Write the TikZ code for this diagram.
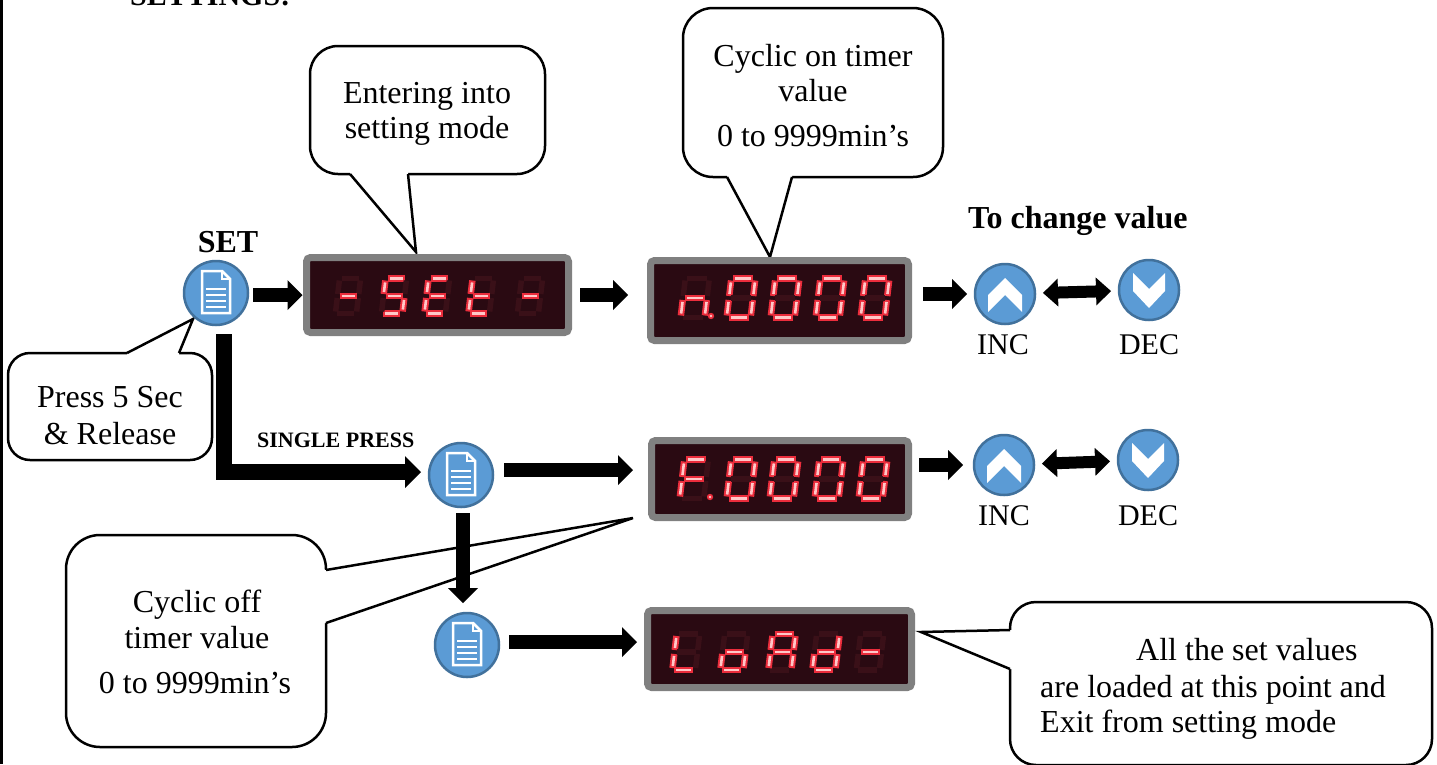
\documentclass[tikz,border=0pt]{standalone}
\usepackage{fontspec}
\setmainfont{Liberation Serif}
\usetikzlibrary{arrows.meta}
\definecolor{btnblue}{RGB}{91,155,213}
\definecolor{btnedge}{RGB}{65,113,156}
\definecolor{framegray}{RGB}{128,128,128}
\definecolor{dispbg}{RGB}{42,10,18}
\definecolor{ledred}{RGB}{235,45,60}
\definecolor{ledpink}{RGB}{255,200,200}
\definecolor{leddim}{RGB}{58,16,24}
\newcommand\ledw{11}
\newcommand\ledh{19}
\newcommand\ledpair[3]{\ifnum#1=1 \draw[ledglow] #2 -- #3;\draw[ledcore] #2 -- #3;\else\draw[ledoff] #2 -- #3;\fi}
\newcommand\ledchar[9]{%
 \begin{scope}[shift={(#1,#2)},xslant=0.12]
  \ledpair{#3}{(-\ledw,-\ledh)}{(\ledw,-\ledh)}%
  \ledpair{#4}{(\ledw,-\ledh)}{(\ledw,0)}%
  \ledpair{#5}{(\ledw,0)}{(\ledw,\ledh)}%
  \ledpair{#6}{(-\ledw,\ledh)}{(\ledw,\ledh)}%
  \ledpair{#7}{(-\ledw,0)}{(-\ledw,\ledh)}%
  \ledpair{#8}{(-\ledw,-\ledh)}{(-\ledw,0)}%
  \ledpair{#9}{(-\ledw,0)}{(\ledw,0)}%
 \end{scope}}
\newcommand\leddot[2]{\fill[ledred] (#1,#2) circle (3.2);\fill[ledpink] (#1,#2) circle (1.4);}
\begin{document}
\begin{tikzpicture}[x=1pt,y=-1pt,
  cbox/.style={draw=black, line width=2.5pt, fill=white},
  cline/.style={draw=black, line width=2.5pt, line join=miter},
  disp/.style={draw=framegray, line width=7pt, fill=dispbg, rounded corners=4pt, inner sep=0pt, outer sep=0pt},
  btn/.style={circle, fill=btnblue, draw=btnedge, line width=2.5pt, minimum size=64pt, inner sep=0pt, outer sep=0pt},
  keybtn/.style={btn, minimum size=60pt},
  bigarrow/.style={line width=14pt, -{Triangle[width=30pt,length=15pt,line width=0pt]}},
  larrow/.style={line width=16pt, line join=miter, -{Triangle[width=32pt,length=16pt,line width=0pt]}},
  dblarrow/.style={line width=12pt, {Triangle[width=28pt,length=15pt,line width=0pt]}-{Triangle[width=28pt,length=15pt,line width=0pt]}},
  txt/.style={inner sep=0pt, font=\fontsize{32}{38}\selectfont},
  ledglow/.style={draw=ledred, line width=6.5pt, shorten <=2pt, shorten >=2pt},
  ledcore/.style={draw=ledpink, line width=2.6pt, shorten <=4pt, shorten >=4pt},
  ledoff/.style={draw=leddim, line width=5.5pt, shorten <=2pt, shorten >=2pt},
  docicon/.pic={
    \draw[white, line width=2.5pt, line join=miter] (-14,-22) -- (6,-22) -- (14,-14) -- (14,20) -- (-14,20) -- cycle;
    \draw[white, line width=2pt] (6,-22) -- (6,-14) -- (14,-14);
    \foreach \yy in {-4,2,8,14} \draw[white, line width=2pt] (-10,\yy) -- (10,\yy);
  },
  chevup/.pic={\fill[white] (0,-16) -- (17,1) -- (17,18) -- (0,1) -- (-17,18) -- (-17,1) -- cycle;},
  chevdown/.pic={\fill[white] (-16,-17) -- (0,-1) -- (16,-17) -- (16,1) -- (0,18) -- (-16,1) -- cycle;}
]
\useasboundingbox (0,0) rectangle (1437,764);
\clip (0,0) rectangle (1437,764);
\fill[white] (0,0) rectangle (1437,764);
\fill[black] (0,0) rectangle (3,764);

% heading (cut off at the top edge, as in the reference)
\node[txt, font=\fontsize{30}{36}\selectfont\bfseries, anchor=base west] (heading) at (130,5) {SETTINGS:};

% callout 1
\draw[cbox, rounded corners=28pt] (310,46) rectangle (545,174);
\fill[white] (350,171) -- (350,174) -- (416,252) -- (408,174) -- (408,171) -- cycle;
\draw[cline] (350,174) -- (416,252) -- (408,174);
\node[txt, anchor=base] (c1a) at (427,103) {Entering into};
\node[txt, anchor=base] (c1b) at (427,138) {setting mode};

% callout 2
\draw[cbox, rounded corners=30pt] (683,8) rectangle (943,177);
\fill[white] (727,174) -- (727,177) -- (770,257) -- (792,177) -- (792,174) -- cycle;
\draw[cline] (727,177) -- (770,257) -- (792,177);
\node[txt, anchor=base] (c2a) at (813,66) {Cyclic on timer};
\node[txt, anchor=base] (c2b) at (813,101) {value};
\node[txt, anchor=base] (c2c) at (813,146) {0 to 9999min’s};

% callout 3
\draw[cbox, rounded corners=22pt] (8,353) rectangle (212,460);
\fill[white] (127,356) -- (127,353) -- (193,319) -- (179,353) -- (179,356) -- cycle;
\draw[cline] (127,353) -- (193,319) -- (179,353);
\node[txt, anchor=base] (c3a) at (110,407) {Press 5 Sec};
\node[txt, anchor=base] (c3b) at (110,444) {\& Release};

% callout 4
\draw[cbox, rounded corners=34pt] (66,535) rectangle (326,747);
\fill[white] (323,570) -- (326,570) -- (633,518) -- (326,623) -- (323,623) -- cycle;
\draw[cline] (326,570) -- (633,518) -- (326,623);
\node[txt, anchor=base] (c4a) at (197,612) {Cyclic off};
\node[txt, anchor=base] (c4b) at (197,648) {timer value};
\node[txt, anchor=base] (c4c) at (195,693) {0 to 9999min’s};

% callout 5
\draw[cbox, rounded corners=26pt] (1010,602) rectangle (1432,765);
\fill[white] (1013,630) -- (1010,630) -- (921,632) -- (1010,669) -- (1013,669) -- cycle;
\draw[cline] (1010,630) -- (921,632) -- (1010,669);
\node[txt, anchor=base west] (c5a) at (1136,660) {All the set values};
\node[txt, anchor=base west] (c5b) at (1040,697) {are loaded at this point and};
\node[txt, anchor=base west] (c5c) at (1040,732) {Exit from setting mode};

% displays
\node[disp, minimum width=262pt, minimum height=75pt] (d1) at (437.5,295) {};
\node[disp, minimum width=258pt, minimum height=80pt] (d2) at (779.5,300.5) {};
\node[disp, minimum width=257pt, minimum height=77pt] (d3) at (780,479) {};
\node[disp, minimum width=264pt, minimum height=77pt] (d4) at (779.5,649) {};

% display 1: - S E t -
\renewcommand\ledw{10.5}\renewcommand\ledh{17.5}
\ledchar{348}{296}{0}{0}{0}{0}{0}{0}{1}
\ledchar{394}{296}{1}{0}{1}{1}{0}{1}{1}
\ledchar{437}{296}{1}{0}{0}{1}{1}{1}{1}
\ledchar{481}{296}{0}{0}{0}{1}{1}{1}{1}
\ledchar{530}{296}{0}{0}{0}{0}{0}{0}{1}
% display 2: n.0000
\renewcommand\ledw{12}\renewcommand\ledh{19.5}
\ledchar{695}{298}{0}{0}{1}{0}{1}{0}{1}
\leddot{711}{316}
\ledchar{741}{298}{1}{1}{1}{1}{1}{1}{0}
\ledchar{785}{298}{1}{1}{1}{1}{1}{1}{0}
\ledchar{830}{298}{1}{1}{1}{1}{1}{1}{0}
\ledchar{875}{298}{1}{1}{1}{1}{1}{1}{0}
% display 3: F.0000
\ledchar{694}{479}{1}{0}{0}{0}{1}{1}{1}
\leddot{710}{497}
\ledchar{741}{479}{1}{1}{1}{1}{1}{1}{0}
\ledchar{784}{479}{1}{1}{1}{1}{1}{1}{0}
\ledchar{829}{479}{1}{1}{1}{1}{1}{1}{0}
\ledchar{873}{479}{1}{1}{1}{1}{1}{1}{0}
% display 4: LoAd-
\renewcommand\ledw{11.5}\renewcommand\ledh{18}
\ledchar{686}{652}{0}{0}{0}{1}{1}{1}{0}
\ledchar{734}{652}{0}{0}{1}{1}{1}{0}{1}
\ledchar{782}{652}{1}{1}{1}{0}{1}{1}{1}
\ledchar{826}{652}{0}{1}{1}{1}{1}{0}{1}
\ledchar{870}{652}{0}{0}{0}{0}{0}{0}{1}

% buttons
\node[btn] (set) at (216,293) {};
\pic at (set) {docicon};
\node[btn] (sp2) at (461,475) {};
\pic at (sp2) {docicon};
\node[btn] (sp3) at (467,645) {};
\pic at (sp3) {docicon};
\node[keybtn] (inc1) at (1005,294) {};
\pic at (inc1) {chevup};
\node[keybtn] (dec1) at (1149,290) {};
\pic at (dec1) {chevdown};
\node[keybtn] (inc2) at (1004,465) {};
\pic at (inc2) {chevup};
\node[keybtn] (dec2) at (1148,460) {};
\pic at (dec2) {chevdown};

% labels
\node[txt, font=\fontsize{32}{38}\selectfont\bfseries, anchor=base] (setlbl) at (228,252) {SET};
\node[txt, font=\fontsize{32}{38}\selectfont\bfseries, anchor=base west] (chg) at (968,228) {To change value};
\node[txt, font=\fontsize{22}{26}\selectfont\bfseries, anchor=base west] (single) at (257,447) {SINGLE PRESS};
\node[txt, font=\fontsize{30}{36}\selectfont, anchor=base] (inc1l) at (1003,354) {INC};
\node[txt, font=\fontsize{30}{36}\selectfont, anchor=base] (dec1l) at (1149,354) {DEC};
\node[txt, font=\fontsize{30}{36}\selectfont, anchor=base] (inc2l) at (1004,525) {INC};
\node[txt, font=\fontsize{30}{36}\selectfont, anchor=base] (dec2l) at (1148,525) {DEC};

% connectors
\draw[bigarrow, shorten <=5pt, shorten >=4pt] (set.east |- d1.west) -- (d1.west);
\draw[bigarrow, shorten <=11.5pt, shorten >=22.5pt] (d1.east) -- (d1.east -| d2.west);
\draw[bigarrow, shorten <=14.5pt, shorten >=8pt] (inc1.west -| d2.east) -- (inc1.west);
\draw[dblarrow, shorten <=38pt, shorten >=38pt] (inc1.center) -- (dec1.center);
\draw[larrow, shorten <=9pt, shorten >=8pt] ([xshift=7.5pt]set.south) |- ([yshift=3pt]sp2.west);
\draw[bigarrow, shorten <=11pt, shorten >=18.5pt] ([yshift=5pt]sp2.east) -- ([yshift=5pt]sp2.east -| d3.west);
\draw[bigarrow, shorten <=10.5pt, shorten >=11pt] (inc2.west -| d3.east) -- (inc2.west);
\draw[dblarrow, shorten <=38pt, shorten >=38pt] (inc2.center) -- (dec2.center);
\draw[bigarrow, shorten <=6pt, shorten >=10pt] ([xshift=2pt]sp2.south) -- ([xshift=2pt]sp2.south |- sp3.north);
\draw[bigarrow, shorten <=10pt, shorten >=10.5pt] ([yshift=3pt]sp3.east) -- ([yshift=3pt]sp3.east -| d4.west);
\end{tikzpicture}
\end{document}
